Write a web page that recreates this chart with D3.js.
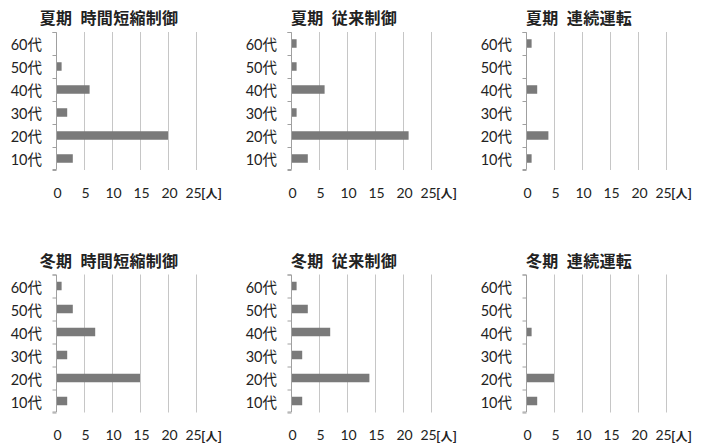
<!DOCTYPE html>
<html>
<head>
<meta charset="utf-8">
<script src="https://cdn.jsdelivr.net/npm/d3@7"></script>
<style>
  html, body { margin: 0; padding: 0; background: #ffffff; }
  svg { display: block; }
</style>
</head>
<body>
<svg id="chart" width="709" height="444"></svg>
<script>
// Age groups, bottom to top
const ageGroups = ["10代", "20代", "30代", "40代", "50代", "60代"];
const xTickValues = [0, 5, 10, 15, 20, 25];
const unitLabel = "[人]";

// Number of respondents per age group for each season / operating mode
const summerTimeShortening = [3, 20, 2, 6, 1, 0];
const summerConventional   = [3, 21, 1, 6, 1, 1];
const summerContinuous     = [1, 4, 0, 2, 0, 1];
const winterTimeShortening = [2, 15, 2, 7, 3, 1];
const winterConventional   = [2, 14, 2, 7, 3, 1];
const winterContinuous     = [2, 5, 0, 1, 0, 0];

const panelTitles = [
  "夏期\u2002時間短縮制御", "夏期\u2002従来制御", "夏期\u2002連続運転",
  "冬期\u2002時間短縮制御", "冬期\u2002従来制御", "冬期\u2002連続運転"
];
const panelValues = [
  summerTimeShortening, summerConventional, summerContinuous,
  winterTimeShortening, winterConventional, winterContinuous
];

const svg = d3.select("#chart");
const colX = [56, 291, 526];
const rowY = [32, 274.5];
const plotW = 140, plotH = 138;
const cjk = "'Noto Sans CJK JP', sans-serif";
const latin = "Lato, 'Noto Sans CJK JP', sans-serif";

panelTitles.forEach((title, i) => {
  const x0 = colX[i % 3], y0 = rowY[Math.floor(i / 3)];
  const values = panelValues[i];
  const g = svg.append("g").attr("transform", `translate(${x0},${y0})`);

  const x = d3.scaleLinear().domain([0, 25]).range([0, plotW]);
  const y = d3.scaleBand()
    .domain(ageGroups.slice().reverse())
    .range([0, plotH])
    .paddingInner(0.63)
    .paddingOuter(0.315);

  // vertical gridlines
  g.append("g")
    .selectAll("line")
    .data(xTickValues.filter(v => v > 0))
    .join("line")
    .attr("x1", d => x(d) + 0.5).attr("x2", d => x(d) + 0.5)
    .attr("y1", 0).attr("y2", plotH)
    .attr("stroke", "#c6c6c6").attr("stroke-width", 1);

  // category axis line with boundary ticks
  const boundary = d3.scaleLinear().domain([0, ageGroups.length]).range([plotH, 0]);
  const yLine = g.append("g").attr("transform", "translate(0.5,0)")
    .call(d3.axisLeft(boundary).ticks(ageGroups.length).tickSize(4).tickFormat(""));
  yLine.selectAll("path, line").attr("stroke", "#a0a0a0");
  yLine.select(".domain").attr("d", `M-4,0.5H0V${plotH - 0.5}H-4`);

  // category labels
  const yLab = g.append("g")
    .call(d3.axisLeft(y).tickSize(0).tickPadding(14));
  yLab.select(".domain").remove();
  yLab.selectAll("text")
    .attr("font-family", latin).attr("font-size", 14.5)
    .attr("fill", "#222").attr("dy", "0.45em");

  // bars
  g.append("g")
    .selectAll("rect")
    .data(values.map((v, k) => ({ age: ageGroups[k], v })))
    .join("rect")
    .attr("x", 1)
    .attr("y", d => y(d.age))
    .attr("width", d => Math.max(0, x(d.v) - 1))
    .attr("height", y.bandwidth())
    .attr("fill", "#7a7a7a");

  // value axis labels
  const xAx = g.append("g").attr("transform", `translate(1,${plotH})`)
    .call(d3.axisBottom(x).tickValues(xTickValues).tickSize(0).tickPadding(18));
  xAx.select(".domain").remove();
  xAx.selectAll("text")
    .attr("font-family", latin).attr("font-size", 14)
    .attr("fill", "#222")
    .attr("dx", d => d === 25 ? -4 : 0);

  // unit label
  g.append("text")
    .attr("x", x(25) + 5).attr("y", plotH + 28)
    .attr("font-family", cjk).attr("font-size", 12).attr("font-weight", "bold")
    .attr("fill", "#222")
    .text(unitLabel);

  // panel title
  g.append("text")
    .attr("x", 53).attr("y", -8)
    .attr("text-anchor", "middle")
    .attr("font-family", cjk).attr("font-size", 16).attr("font-weight", "bold")
    .attr("letter-spacing", "0.3px")
    .attr("fill", "#222")
    .text(title);
});
</script>
</body>
</html>
